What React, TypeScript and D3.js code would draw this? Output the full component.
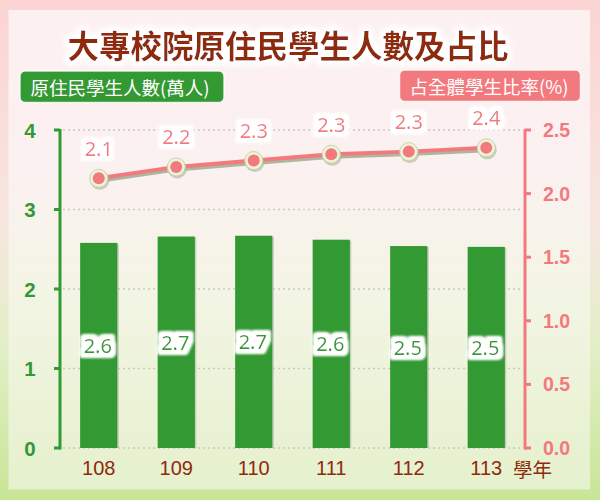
import React, { useEffect } from "react";
import * as d3 from "d3";

const years = ["108", "109", "110", "111", "112", "113"];
const students = [2.58, 2.66, 2.67, 2.62, 2.54, 2.53];
const ratio = [2.12, 2.21, 2.26, 2.31, 2.33, 2.36];
const leftTicks = [0, 1, 2, 3, 4];
const rightTicks = [0, 0.5, 1.0, 1.5, 2.0, 2.5];
const title = "大專校院原住民學生人數及占比";
const leftLegend = "原住民學生人數(萬人)";
const rightLegend = "占全體學生比率(%)";
const xUnit = "學年";

const GREEN = "#339933";
const PINK = "#f27a7f";
const BROWN = "#8f2a0c";
const CJK = "'Noto Sans CJK TC', 'Noto Sans', sans-serif";
const NUM = "'Liberation Sans', Arial, sans-serif";
const ROUND = "'Noto Sans', 'DejaVu Sans', sans-serif";

export default function App() {
  useEffect(() => {
    document.body.style.margin = "0";
  }, []);

  const W = 600, H = 500;
  const x = d3.scaleBand<string>().domain(years).range([60, 525]).paddingInner(0.52).paddingOuter(0.26);
  const yL = d3.scaleLinear().domain([0, 4]).range([448, 130]);
  const yR = d3.scaleLinear().domain([0, 2.5]).range([448, 130]);
  const bw = x.bandwidth();
  const cx = (c: string) => (x(c) as number) + bw / 2;
  const f1 = d3.format(".1f");
  const f0 = d3.format("d");

  const linePts: [number, number][] = years.map((c, i) => [cx(c), yR(ratio[i])]);
  const lineGen = d3.line();
  const path = lineGen(linePts) as string;

  return (
    <svg width={W} height={H} style={{ display: "block" }}>
      <defs>
        <linearGradient id="outerBg" x1="0" y1="0" x2="0" y2="1">
          <stop offset="0" stopColor="#fcd4d4" />
          <stop offset="0.45" stopColor="#f6e6df" />
          <stop offset="0.7" stopColor="#e2efc6" />
          <stop offset="1" stopColor="#c8e597" />
        </linearGradient>
        <linearGradient id="innerBg" x1="0" y1="0" x2="0" y2="1">
          <stop offset="0" stopColor="#fdf0f0" />
          <stop offset="0.35" stopColor="#fbf1f0" />
          <stop offset="0.6" stopColor="#f3f5e4" />
          <stop offset="1" stopColor="#e5f1cd" />
        </linearGradient>
        <filter id="glow" x="-30%" y="-50%" width="160%" height="200%">
          <feMorphology in="SourceAlpha" operator="dilate" radius="3.5" result="d" />
          <feGaussianBlur in="d" stdDeviation="1.6" result="b" />
          <feFlood floodColor="#ffffff" />
          <feComposite in2="b" operator="in" result="w" />
          <feMerge>
            <feMergeNode in="w" />
            <feMergeNode in="w" />
            <feMergeNode in="w" />
            <feMergeNode in="SourceGraphic" />
          </feMerge>
        </filter>
        <filter id="glowBig" x="-10%" y="-40%" width="120%" height="180%">
          <feMorphology in="SourceAlpha" operator="dilate" radius="3" result="d" />
          <feGaussianBlur in="d" stdDeviation="3" result="b" />
          <feFlood floodColor="#ffffff" />
          <feComposite in2="b" operator="in" result="w" />
          <feMerge>
            <feMergeNode in="w" />
            <feMergeNode in="w" />
            <feMergeNode in="SourceGraphic" />
          </feMerge>
        </filter>
      </defs>

      <rect x={0} y={0} width={W} height={H} fill="url(#outerBg)" />
      <rect x={8.5} y={10} width={581.5} height={479.5} fill="url(#innerBg)" />

      {/* Title */}
      <text x={288} y={44} textAnchor="middle" dominantBaseline="central" fill={BROWN}
        fontFamily={CJK} fontWeight="bold" fontSize={31.5} filter="url(#glowBig)">{title}</text>

      {/* Legends */}
      <rect x={20} y={71} width={204} height={31.5} rx={5} fill={GREEN} stroke="#ffffff" strokeOpacity={0.8} strokeWidth={1.5} />
      <text x={120} y={87} textAnchor="middle" dominantBaseline="central" fill="#ffffff" fontFamily={CJK} fontSize={18.5}>{leftLegend}</text>
      <rect x={399.5} y={70} width={181} height={31.5} rx={5} fill={PINK} stroke="#ffffff" strokeOpacity={0.8} strokeWidth={1.5} />
      <text x={489} y={86} textAnchor="middle" dominantBaseline="central" fill="#ffffff" fontFamily={CJK} fontSize={18.5}>{rightLegend}</text>

      {/* Gridlines */}
      {leftTicks.map((t) => (
        <line key={"g" + t} x1={63} x2={522} y1={yL(t)} y2={yL(t)} stroke="#c9c9c2" strokeWidth={1.5} strokeDasharray="2,3" />
      ))}

      {/* Bars */}
      {years.map((c, i) => (
        <g key={"b" + c}>
          <rect x={(x(c) as number) + 1.5} y={yL(students[i]) + 1} width={bw} height={yL(0) - yL(students[i]) - 1} fill="#b9bdb0" opacity={0.7} />
          <rect x={x(c) as number} y={yL(students[i])} width={bw} height={yL(0) - yL(students[i])} fill={GREEN} />
        </g>
      ))}

      {/* Bar labels */}
      {years.map((c, i) => (
        <text key={"bl" + c} x={cx(c) - 1} y={(yL(students[i]) + yL(0)) / 2} textAnchor="middle" dominantBaseline="central"
          fill={GREEN} fontFamily={ROUND} fontSize={20} filter="url(#glow)">{f1(students[i])}</text>
      ))}

      {/* Left axis */}
      <line x1={60} x2={60} y1={yL(4) - 1} y2={yL(0) + 1.5} stroke={GREEN} strokeWidth={3} />
      {leftTicks.map((t) => (
        <g key={"lt" + t}>
          <line x1={54} x2={60} y1={yL(t)} y2={yL(t)} stroke={GREEN} strokeWidth={3} />
          <text x={30} y={yL(t)} textAnchor="middle" dominantBaseline="central" fill={GREEN}
            fontFamily={NUM} fontWeight="bold" fontSize={20.5}>{f0(t)}</text>
        </g>
      ))}

      {/* Right axis */}
      <line x1={525} x2={525} y1={yR(2.5) - 1} y2={yR(0) + 1.5} stroke={PINK} strokeWidth={3} />
      {rightTicks.map((t) => (
        <g key={"rt" + t}>
          <line x1={525} x2={531} y1={yR(t)} y2={yR(t)} stroke={PINK} strokeWidth={3} />
          <text x={543} y={yR(t)} textAnchor="start" dominantBaseline="central" fill={PINK}
            fontFamily={NUM} fontWeight="bold" fontSize={19.5}>{f1(t)}</text>
        </g>
      ))}

      {/* X labels */}
      {years.map((c) => (
        <text key={"xl" + c} x={cx(c)} y={468} textAnchor="middle" dominantBaseline="central" fill={BROWN}
          fontFamily={NUM} fontSize={20}>{c}</text>
      ))}
      <text x={513} y={468} textAnchor="start" dominantBaseline="central" fill={BROWN} fontFamily={CJK} fontSize={19.5}>{xUnit}</text>

      {/* Line */}
      <path d={path} transform="translate(1,2.5)" fill="none" stroke="#9aa88a" strokeWidth={4} opacity={0.8} />
      <path d={path} fill="none" stroke={PINK} strokeWidth={4} />
      {linePts.map(([px, py], i) => (
        <g key={"p" + i}>
          <circle cx={px + 1} cy={py + 2} r={9.5} fill="#a8b394" opacity={0.6} />
          <circle cx={px} cy={py} r={9} fill="#eef5d6" stroke="#c9d3b0" strokeWidth={1} />
          <circle cx={px} cy={py} r={6} fill={PINK} />
        </g>
      ))}
      {linePts.map(([px, py], i) => (
        <text key={"pl" + i} x={px} y={py - 30} textAnchor="middle" dominantBaseline="central" fill={PINK}
          fontFamily={ROUND} fontSize={20} filter="url(#glow)">{f1(ratio[i])}</text>
      ))}
    </svg>
  );
}
